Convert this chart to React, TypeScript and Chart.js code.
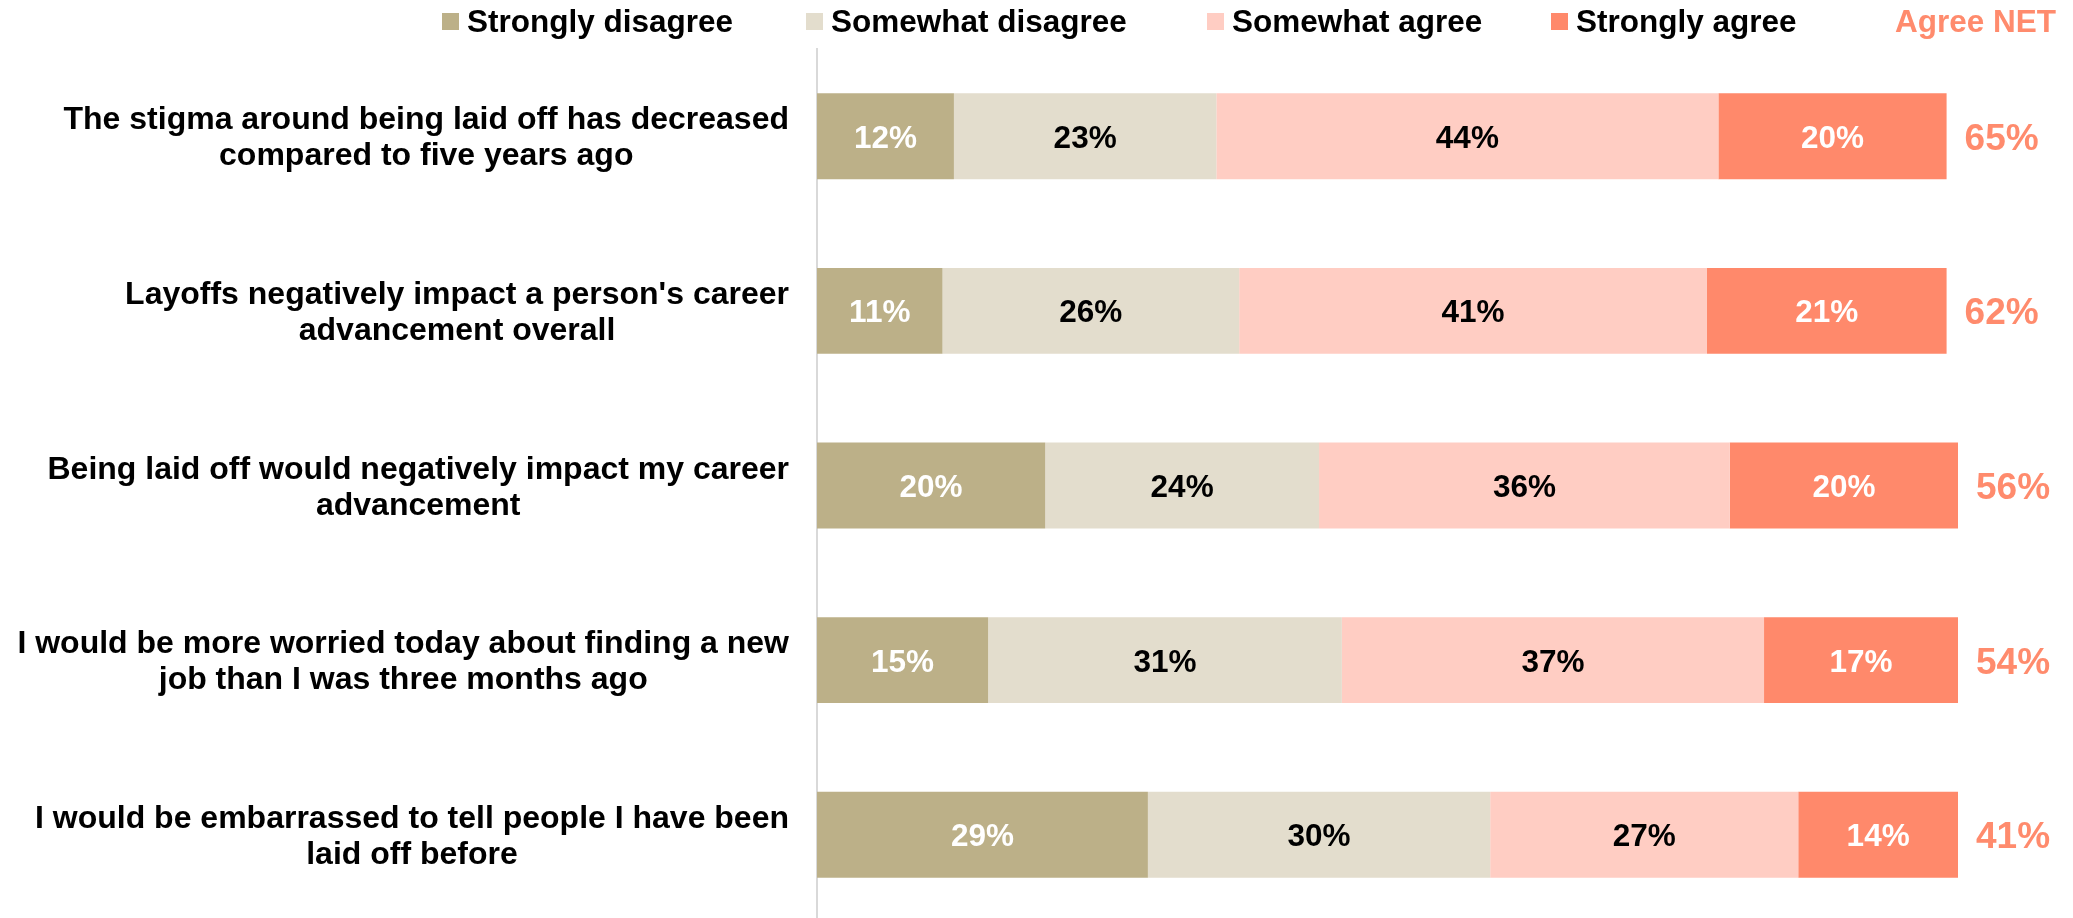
import { useEffect, useRef } from 'react';
import { Chart, registerables } from 'chart.js';

Chart.register(...registerables);

const categories: string[][] = [
  ['The stigma around being laid off has decreased', 'compared to five years ago'],
  ["Layoffs negatively impact a person's career", 'advancement overall'],
  ['Being laid off would negatively impact my career', 'advancement'],
  ['I would be more worried today about finding a new', 'job than I was three months ago'],
  ['I would be embarrassed to tell people I have been', 'laid off before'],
];
const seriesNames = ['Strongly disagree', 'Somewhat disagree', 'Somewhat agree', 'Strongly agree'];
const stronglyDisagree = [12, 11, 20, 15, 29];
const somewhatDisagree = [23, 26, 24, 31, 30];
const somewhatAgree = [44, 41, 36, 37, 27];
const stronglyAgree = [20, 21, 20, 17, 14];
const agreeNet = [65, 62, 56, 54, 41];
const netTitle = 'Agree NET';

const COLORS = ['#BCB088', '#E3DDCD', '#FFCDC3', '#FF896B'];
const LABEL_COLORS = ['#FFFFFF', '#000000', '#000000', '#FFFFFF'];
const NET_COLOR = '#FF8B6D';
const FONT = '"Liberation Sans", Arial, Helvetica, sans-serif';

const overlayPlugin = {
  id: 'overlay',
  afterDraw(chart: any) {
    const ctx = chart.ctx;
    const area = chart.chartArea;
    ctx.save();

    // Legend
    const legendX = [442, 806, 1207, 1551];
    ctx.font = `bold 31.5px ${FONT}`;
    ctx.textBaseline = 'alphabetic';
    ctx.textAlign = 'left';
    seriesNames.forEach((name, i) => {
      ctx.fillStyle = COLORS[i];
      ctx.fillRect(legendX[i], 13, 17, 17);
      ctx.fillStyle = '#000000';
      ctx.fillText(name, legendX[i] + 25, 32);
    });
    ctx.fillStyle = NET_COLOR;
    ctx.fillText(netTitle, 1895, 32);

    // Category labels (block right-aligned, lines centered)
    const yScale = chart.scales.y;
    ctx.font = `bold 32px ${FONT}`;
    ctx.fillStyle = '#000000';
    ctx.textAlign = 'center';
    categories.forEach((lines, i) => {
      const yc = yScale.getPixelForTick(i);
      const widest = Math.max(...lines.map((l) => ctx.measureText(l).width));
      const cx = area.left - 28 - widest / 2;
      const n = lines.length;
      lines.forEach((line, j) => {
        const offset = (j - (n - 1) / 2) * 36;
        ctx.fillText(line, cx, yc + offset + 11);
      });
    });

    // Segment labels
    ctx.font = `bold 31.5px ${FONT}`;
    ctx.textAlign = 'center';
    chart.data.datasets.forEach((ds: any, di: number) => {
      const meta = chart.getDatasetMeta(di);
      meta.data.forEach((bar: any, i: number) => {
        const v = ds.data[i];
        if (!v) return;
        const cx = (bar.x + bar.base) / 2;
        ctx.fillStyle = LABEL_COLORS[di];
        ctx.fillText(`${v}%`, cx, bar.y + 11.5);
      });
    });

    // NET labels
    const lastMeta = chart.getDatasetMeta(chart.data.datasets.length - 1);
    ctx.font = `bold 37px ${FONT}`;
    ctx.textAlign = 'left';
    ctx.fillStyle = NET_COLOR;
    lastMeta.data.forEach((bar: any, i: number) => {
      ctx.fillText(`${agreeNet[i]}%`, bar.x + 18, bar.y + 13.5);
    });

    ctx.restore();
  },
};

export default function App() {
  const ref = useRef<HTMLCanvasElement | null>(null);

  useEffect(() => {
    document.body.style.margin = '0';
    document.body.style.overflow = 'hidden';
    document.documentElement.style.overflow = 'hidden';
    if (!ref.current) return;
    const series = [stronglyDisagree, somewhatDisagree, somewhatAgree, stronglyAgree];
    const chart = new Chart(ref.current, {
      type: 'bar',
      data: {
        labels: categories.map((c) => c.join(' ')),
        datasets: series.map((data, i) => ({
          label: seriesNames[i],
          data,
          backgroundColor: COLORS[i],
          borderWidth: 0,
          categoryPercentage: 1,
          barPercentage: 0.492,
        })),
      },
      options: {
        indexAxis: 'y',
        responsive: false,
        animation: false,
        devicePixelRatio: 1,
        layout: { padding: { top: 49, right: 115, bottom: 0, left: 0 } },
        plugins: {
          legend: { display: false },
          tooltip: { enabled: false },
          title: { display: false },
        },
        scales: {
          x: {
            stacked: true,
            min: 0,
            max: 100,
            display: false,
          },
          y: {
            stacked: true,
            grid: { display: false },
            ticks: { display: false },
            border: { display: true, color: '#D9D9D9', width: 2 },
            afterFit: (scale: any) => {
              scale.width = 817;
            },
          },
        },
      },
      plugins: [overlayPlugin],
    });
    return () => chart.destroy();
  }, []);

  return (
    <div style={{ width: 2073, height: 922, overflow: 'hidden' }}>
      <canvas ref={ref} width={2073} height={922} style={{ display: 'block' }} />
    </div>
  );
}
